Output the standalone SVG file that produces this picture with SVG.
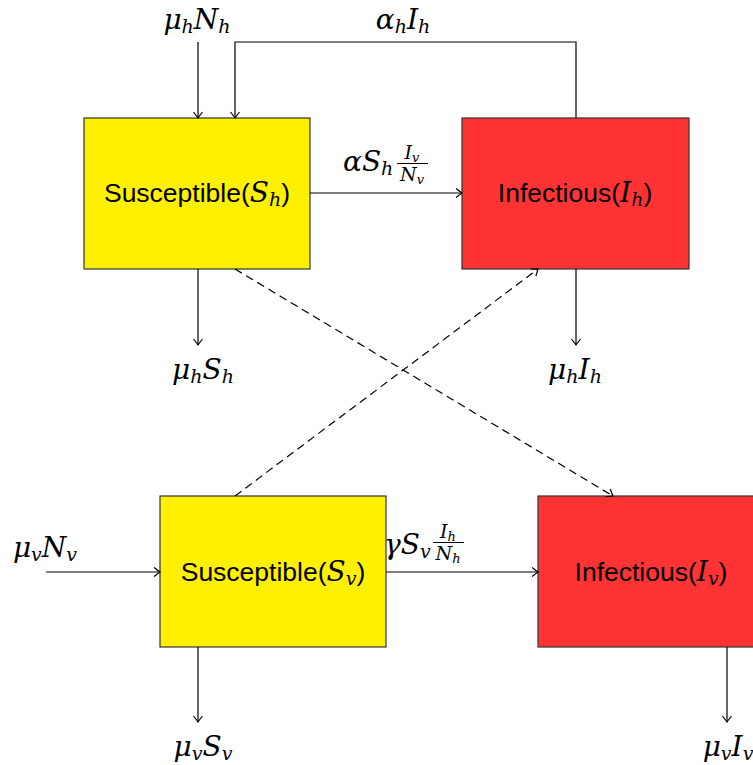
<svg xmlns="http://www.w3.org/2000/svg" width="753" height="765" viewBox="0 0 753 765">
<style>
.box{stroke:#333;stroke-width:1.2}
.sus{fill:#fff000}
.inf{fill:#ff3333}
.ln{fill:none;stroke:#000;stroke-width:1.2}
.dash{stroke-dasharray:8,5}
.lbl{font-family:"Liberation Sans","DejaVu Sans",sans-serif;font-size:26.5px;fill:#000}
.m{font-family:"DejaVu Serif","Liberation Serif",serif;font-style:italic;font-size:28px;fill:#000}
.s{font-size:19px}
.f{font-size:19px}
</style>
<defs>
<marker id="to" markerUnits="userSpaceOnUse" markerWidth="12" markerHeight="12" viewBox="-8 -6 10 12" refX="0" refY="0" orient="auto">
<path d="M-6,-4.5 Q-1.5,-1 0,0 Q-1.5,1 -6,4.5" fill="none" stroke="#000" stroke-width="1.2"/>
</marker>
</defs>

<g id="node-Sh">
<rect class="box sus" x="84" y="118" width="226" height="151"/>
<text x="197" y="202" text-anchor="middle"><tspan class="lbl">Susceptible(</tspan><tspan class="m">S</tspan><tspan class="m s" dy="4">h</tspan><tspan class="lbl" dy="-4">)</tspan></text>
</g>
<g id="node-Ih">
<rect class="box inf" x="462" y="118" width="227" height="151"/>
<text x="575" y="202" text-anchor="middle"><tspan class="lbl">Infectious(</tspan><tspan class="m">I</tspan><tspan class="m s" dy="4">h</tspan><tspan class="lbl" dy="-4">)</tspan></text>
</g>
<g id="node-Sv">
<rect class="box sus" x="160" y="496" width="226" height="151"/>
<text x="273" y="581" text-anchor="middle"><tspan class="lbl">Susceptible(</tspan><tspan class="m">S</tspan><tspan class="m s" dy="4">v</tspan><tspan class="lbl" dy="-4">)</tspan></text>
</g>
<g id="node-Iv">
<rect class="box inf" x="538" y="496" width="227" height="151"/>
<text x="651" y="581" text-anchor="middle"><tspan class="lbl">Infectious(</tspan><tspan class="m">I</tspan><tspan class="m s" dy="4">v</tspan><tspan class="lbl" dy="-4">)</tspan></text>
</g>

<g id="connectors">
<path class="ln" d="M198,42 V118" marker-end="url(#to)"/>
<path class="ln" d="M576,118 V42 H235 V118" marker-end="url(#to)"/>
<path class="ln" d="M310,193 H462" marker-end="url(#to)"/>
<path class="ln" d="M198,269 V345" marker-end="url(#to)"/>
<path class="ln" d="M576,269 V345" marker-end="url(#to)"/>
<path class="ln dash" d="M235,269 L613,496" marker-end="url(#to)"/>
<path class="ln dash" d="M235,496 L538,269" marker-end="url(#to)"/>
<path class="ln" d="M46,572 H160" marker-end="url(#to)"/>
<path class="ln" d="M386,572 H538" marker-end="url(#to)"/>
<path class="ln" d="M198,647 V722" marker-end="url(#to)"/>
<path class="ln" d="M727,647 V722" marker-end="url(#to)"/>
</g>

<g id="labels">
<text class="m" x="197" y="29" text-anchor="middle">μ<tspan class="s" dy="4">h</tspan><tspan dy="-4">N</tspan><tspan class="s" dy="4">h</tspan></text>
<text class="m" x="403" y="29" text-anchor="middle">α<tspan class="s" dy="4">h</tspan><tspan dy="-4">I</tspan><tspan class="s" dy="4">h</tspan></text>
<text class="m" x="343" y="171">α<tspan>S</tspan><tspan class="s" dy="4">h</tspan></text>
<text class="m f" x="412" y="159" text-anchor="middle">I<tspan font-size="13" dy="3">v</tspan></text>
<line x1="397" y1="163.5" x2="428" y2="163.5" stroke="#000" stroke-width="1"/>
<text class="m f" x="412" y="181" text-anchor="middle">N<tspan font-size="13" dy="3">v</tspan></text>
<text class="m" x="203" y="379" text-anchor="middle">μ<tspan class="s" dy="4">h</tspan><tspan dy="-4">S</tspan><tspan class="s" dy="4">h</tspan></text>
<text class="m" x="575" y="379" text-anchor="middle">μ<tspan class="s" dy="4">h</tspan><tspan dy="-4">I</tspan><tspan class="s" dy="4">h</tspan></text>
<text class="m" x="45" y="557" text-anchor="middle">μ<tspan class="s" dy="4">v</tspan><tspan dy="-4">N</tspan><tspan class="s" dy="4">v</tspan></text>
<text class="m" x="384" y="554">γ<tspan>S</tspan><tspan class="s" dy="4">v</tspan></text>
<text class="m f" x="448" y="538" text-anchor="middle">I<tspan font-size="13" dy="3">h</tspan></text>
<line x1="433" y1="542.5" x2="464" y2="542.5" stroke="#000" stroke-width="1"/>
<text class="m f" x="448" y="560" text-anchor="middle">N<tspan font-size="13" dy="3">h</tspan></text>
<text class="m" x="203" y="756" text-anchor="middle">μ<tspan class="s" dy="4">v</tspan><tspan dy="-4">S</tspan><tspan class="s" dy="4">v</tspan></text>
<text class="m" x="728" y="756" text-anchor="middle">μ<tspan class="s" dy="4">v</tspan><tspan dy="-4">I</tspan><tspan class="s" dy="4">v</tspan></text>
</g>
</svg>
